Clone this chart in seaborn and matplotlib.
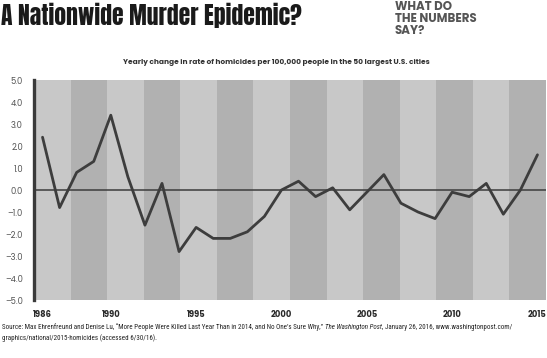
import matplotlib
matplotlib.use("Agg")
import matplotlib.pyplot as plt
import seaborn as sns
import numpy as np
import pandas as pd

years = list(range(1986, 2016))
change = [2.4, -0.8, 0.8, 1.3, 3.4, 0.6, -1.6, 0.3, -2.8, -1.7,
          -2.2, -2.2, -1.9, -1.2, 0.0, 0.4, -0.3, 0.1, -0.9, -0.1,
          0.7, -0.6, -1.0, -1.3, -0.1, -0.3, 0.3, -1.1, 0.0, 1.6]
xticks = [1986, 1990, 1995, 2000, 2005, 2010, 2015]
yticks = [5.0, 4.0, 3.0, 2.0, 1.0, 0.0, -1.0, -2.0, -3.0, -4.0, -5.0]

title = "A Nationwide Murder Epidemic?"
side = "WHAT DO\nTHE NUMBERS\nSAY?"
subtitle = "Yearly change in rate of homicides per 100,000 people in the 50 largest U.S. cities"

sns.set_style("white")
GOTH = ['Poppins', 'Lato', 'DejaVu Sans']
COND = ['Anton', 'Fjalla One', 'DejaVu Sans']
NARROW = ['Roboto Condensed', 'Lato', 'DejaVu Sans']
plt.rcParams['font.family'] = GOTH

df = pd.DataFrame({"year": years, "change": change})

fig = plt.figure(figsize=(5.47, 3.58), dpi=100)
ax = fig.add_axes([34/547, 1 - 300/358, 512/547, 220/358])

xmin, xmax = 1985.5, 2015.5
edges = np.linspace(xmin, xmax, 15)
for i in range(14):
    ax.axvspan(edges[i], edges[i + 1], color="#c8c8c8" if i % 2 == 0 else "#b1b1b1",
               lw=0, zorder=0)

ax.axhline(0, color="#3c3c3c", lw=1.1, zorder=2)
sns.lineplot(data=df, x="year", y="change", ax=ax, color="#3d3d3d", lw=2.0, zorder=3)

ax.set_xlim(xmin, xmax)
ax.set_ylim(-5, 5)
ax.set_xticks(xticks)
ax.set_xticklabels([str(t) for t in xticks], fontsize=6, fontweight="bold", color="#2a2a2a")
ax.set_yticks(yticks)
ax.set_yticklabels([f"{t:.1f}".replace("-", "\u2013") for t in yticks], fontsize=6,
                   color="#555555")
ax.tick_params(axis="y", length=5, width=0.8, color="#555555", pad=3)
ax.tick_params(axis="x", length=0, pad=7)
ax.set_xlabel("")
ax.set_ylabel("")
for s in ["top", "right", "bottom"]:
    ax.spines[s].set_visible(False)
ax.spines["left"].set_color("#3a3a3a")
ax.spines["left"].set_linewidth(2.4)
ax.spines["left"].set_zorder(4)

fig.text(1/547, 1 - 25/358, title, fontsize=17, family=COND, color="#1a1a1a",
         va="baseline")
fig.text(395/547, 1 - 1/358, side, fontsize=8.5, fontweight="bold", color="#555555",
         va="top", linespacing=1.0)
fig.text(276/547, 1 - 62/358, subtitle, fontsize=5.3, fontweight="bold", color="#333333",
         ha="center", va="center")

# source with italic title
fig.canvas.draw()
r = fig.canvas.get_renderer()
y1 = 1 - 329/358
parts = [("Source: Max Ehrenfreund and Denise Lu, \u201cMore People Were Killed Last Year Than in 2014, and No One\u2019s Sure Why,\u201d ", "normal"),
         ("The Washington Post", "italic"),
         (", January 26, 2016, www.washingtonpost.com/", "normal")]
x = 2/547
for txt, st in parts:
    t = fig.text(x, y1, txt, fontsize=5.0, style=st, color="#222222", va="baseline",
                 family=NARROW)
    bb = t.get_window_extent(renderer=r)
    x = bb.x1 / fig.bbox.width
fig.text(2/547, 1 - 340/358, "graphics/national/2015-homicides (accessed 6/30/16).",
         fontsize=5.0, color="#222222", va="baseline", family=NARROW)

fig.savefig("out.png", dpi=100)
